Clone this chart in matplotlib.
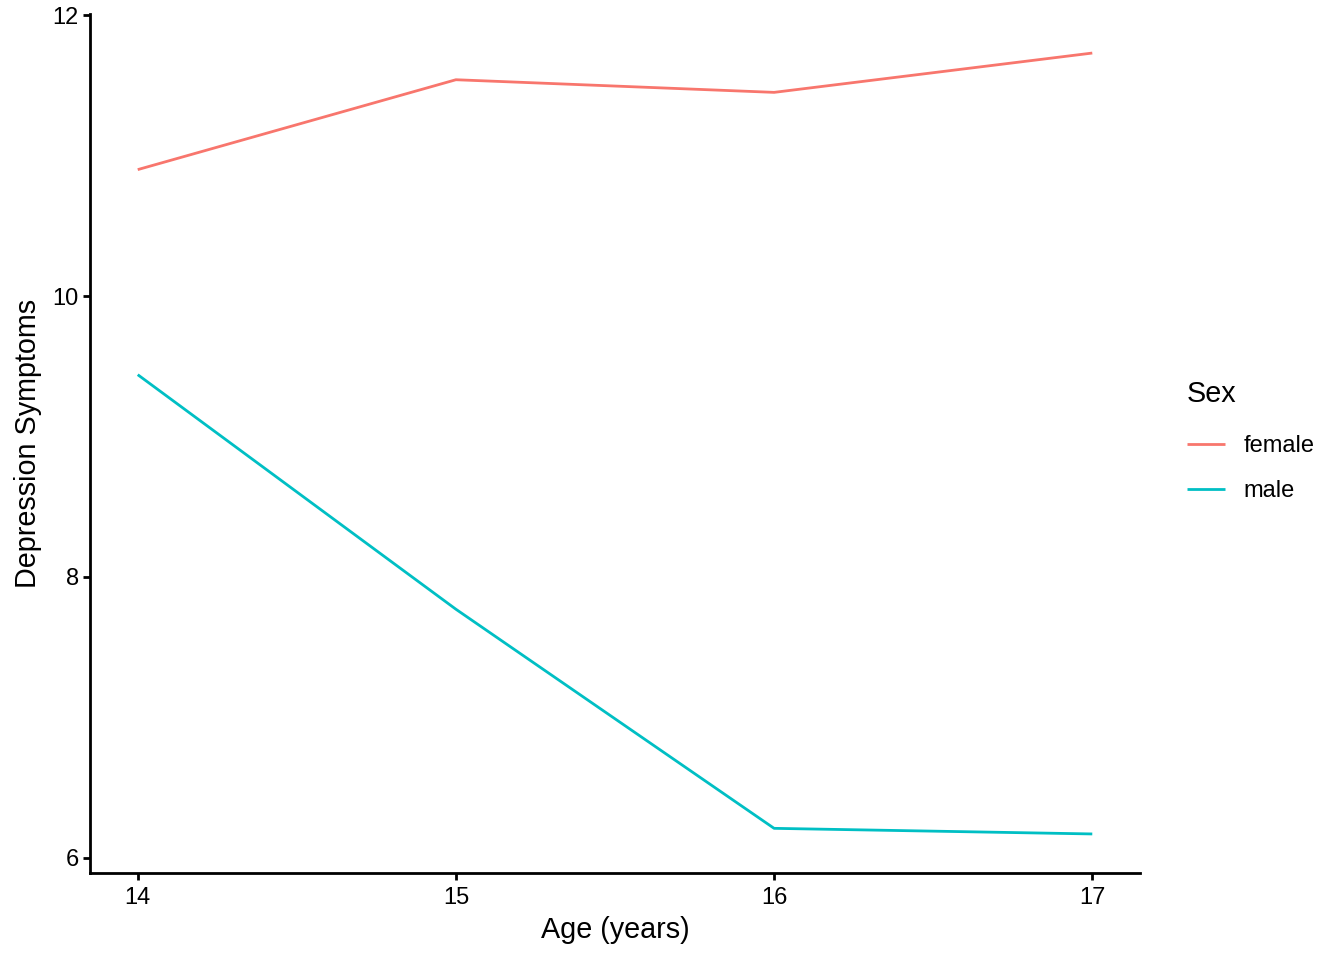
import matplotlib
matplotlib.use("Agg")
import matplotlib.pyplot as plt

plt.rcParams['font.family'] = ['Liberation Sans', 'DejaVu Sans']

ages = [14, 15, 16, 17]
female = [10.90, 11.54, 11.45, 11.73]
male = [9.44, 7.77, 6.21, 6.17]
sex_labels = ["female", "male"]
colors = ["#F8766D", "#00BFC4"]
yticks = [6, 8, 10, 12]

fig = plt.figure(figsize=(13.44, 9.6), dpi=100)
ax = fig.add_axes([90/1344, 1 - 873/960, (1140-90)/1344, (873-14)/960])

for vals, lab, c in zip([female, male], sex_labels, colors):
    ax.plot(ages, vals, color=c, lw=2.0, label=lab, solid_capstyle='butt')

allv = female + male
lo, hi = min(allv), max(allv)
pad = 0.05 * (hi - lo)
ax.set_ylim(lo - pad, hi + pad)
xpad = 0.05 * (max(ages) - min(ages))
ax.set_xlim(min(ages) - xpad, max(ages) + xpad)

ax.set_xticks(ages)
ax.set_yticks(yticks)
ax.set_xticklabels([str(a) for a in ages])
ax.set_yticklabels([str(t) for t in yticks])

for s in ['top', 'right']:
    ax.spines[s].set_visible(False)
for s in ['left', 'bottom']:
    ax.spines[s].set_linewidth(2.0)
ax.tick_params(axis='both', length=5, width=2.0, labelsize=17, pad=5, colors='black')
ax.tick_params(axis='y', pad=3)

ax.set_xlabel("Age (years)", fontsize=20.7, labelpad=5)
ax.set_ylabel("Depression Symptoms", fontsize=20.7, labelpad=8)

leg = fig.legend(loc='upper left', bbox_to_anchor=(1187/1344, 1 - 380/960),
                 frameon=False, title="Sex", fontsize=17, title_fontsize=20.7,
                 handlelength=1.6, handletextpad=0.8, labelspacing=0.95,
                 borderpad=0, borderaxespad=0, alignment='left')
leg._legend_box.sep = leg._legend_box.sep + 3.6
for h in leg.get_lines():
    h.set_linewidth(2.0)

fig.savefig("out.png", dpi=100)
